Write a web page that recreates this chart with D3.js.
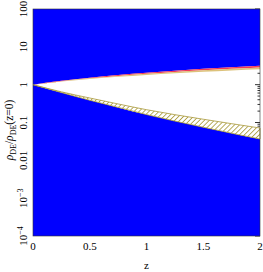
<!DOCTYPE html>
<html>
<head>
  <script src="https://d3js.org/d3.v7.min.js"></script>
  <style>
    body { margin: 0; background: #fff; }
    text { font-family: "Liberation Serif", "DejaVu Serif", serif; fill: #000; }
  </style>
</head>
<body>
  <div class="chart"></div>
  <script>
    // data
    const zValues    = [0, 0.25, 0.5, 0.75, 1, 1.25, 1.5, 1.75, 2];
    const upperOuter = [1, 1.26, 1.53, 1.80, 2.07, 2.34, 2.62, 2.89, 3.17];
    const upperMid   = [1, 1.24, 1.47, 1.70, 1.93, 2.16, 2.39, 2.62, 2.84];
    const upperInner = [1, 1.21, 1.41, 1.61, 1.80, 1.99, 2.18, 2.36, 2.54];
    const lowerInner = [1, 0.647, 0.444, 0.309, 0.218, 0.161, 0.122, 0.093, 0.0715];
    const lowerOuter = [1, 0.618, 0.387, 0.251, 0.162, 0.109, 0.075, 0.052, 0.0366];
    const xTicks = [0, 0.5, 1, 1.5, 2];
    const xTickLabels = ["0", "0.5", "1", "1.5", "2"];
    const yTicks = [1e-4, 1e-3, 0.01, 0.1, 1, 10, 100];
    const yTickLabels = [["10", "\u22124"], ["10", "\u22123"], ["0.01"], ["0.1"], ["1"], ["10"], ["100"]];

    const width = 263, height = 272;
    const margin = { top: 9, right: 3, bottom: 36, left: 33 };
    const w = width - margin.left - margin.right;
    const h = height - margin.top - margin.bottom;

    const svg = d3.select(".chart").append("svg")
      .attr("width", width)
      .attr("height", height);

    const g = svg.append("g")
      .attr("transform", `translate(${margin.left},${margin.top})`);

    const x = d3.scaleLinear().domain([0, 2]).range([0, w]);
    const y = d3.scaleLog().domain([1e-4, 100]).range([h, 0]);

    const rows = zValues.map((z, i) => ({
      z, uo: upperOuter[i], um: upperMid[i], ui: upperInner[i],
      li: lowerInner[i], lo: lowerOuter[i]
    }));

    // inner ticks on right side (drawn under the fills)
    const minor = [];
    for (let e = -4; e < 2; e++) for (let k = 2; k <= 9; k++) minor.push(k * Math.pow(10, e));
    g.selectAll(".rmaj").data(yTicks).join("line")
      .attr("x1", w).attr("x2", w - 5)
      .attr("y1", d => y(d)).attr("y2", d => y(d))
      .attr("stroke", "#333").attr("stroke-width", 1);
    g.selectAll(".rmin").data(minor).join("line")
      .attr("x1", w).attr("x2", w - 2.5)
      .attr("y1", d => y(d)).attr("y2", d => y(d))
      .attr("stroke", "#333").attr("stroke-width", 1);

    // hatch pattern
    const pat = svg.append("defs").append("pattern")
      .attr("id", "hatch")
      .attr("patternUnits", "userSpaceOnUse")
      .attr("width", 3.5).attr("height", 3.5)
      .attr("patternTransform", "rotate(45)");
    pat.append("rect").attr("width", 3.5).attr("height", 3.5).attr("fill", "#fff");
    pat.append("line").attr("x1", 0).attr("y1", 0).attr("x2", 0).attr("y2", 3.5)
      .attr("stroke", "#a89838").attr("stroke-width", 1.6);

    const curve = d3.curveMonotoneX;

    // blue regions
    g.append("path").datum(rows)
      .attr("fill", "#0000ff")
      .attr("d", d3.area().curve(curve).x(d => x(d.z)).y0(0).y1(d => y(d.uo)));
    g.append("path").datum(rows)
      .attr("fill", "#0000ff")
      .attr("d", d3.area().curve(curve).x(d => x(d.z)).y0(h).y1(d => y(d.lo)));
    g.append("rect").attr("x", 0).attr("y", 0).attr("width", 1.5).attr("height", h).attr("fill", "#0000ff");

    // upper bands
    g.append("path").datum(rows)
      .attr("fill", "#f03a5a")
      .attr("d", d3.area().curve(curve).x(d => x(d.z)).y0(d => y(d.uo)).y1(d => y(d.um)));
    g.append("path").datum(rows)
      .attr("fill", "#dcc27a")
      .attr("d", d3.area().curve(curve).x(d => x(d.z)).y0(d => y(d.um)).y1(d => y(d.ui)));

    // lower hatched band
    g.append("path").datum(rows)
      .attr("fill", "url(#hatch)")
      .attr("stroke", "#a89838").attr("stroke-width", 0.8)
      .attr("d", d3.area().curve(curve).x(d => x(d.z)).y0(d => y(d.lo)).y1(d => y(d.li)));

    // frame
    g.append("rect").attr("width", w).attr("height", h)
      .attr("fill", "none").attr("stroke", "#333").attr("stroke-width", 0.6);

    // x tick labels
    g.selectAll(".xl").data(xTicks).join("text")
      .attr("x", d => x(d)).attr("y", h + 14)
      .attr("text-anchor", "middle")
      .attr("font-size", 11)
      .text((d, i) => xTickLabels[i]);

    g.append("text")
      .attr("x", x(1)).attr("y", h + 33)
      .attr("text-anchor", "middle")
      .attr("font-size", 11)
      .text("z");

    // y tick labels (rotated)
    yTicks.forEach((v, i) => {
      const t = svg.append("text")
        .attr("transform", `translate(27,${margin.top + y(v)}) rotate(-90)`)
        .attr("text-anchor", "middle")
        .attr("font-size", 11);
      const lab = yTickLabels[i];
      t.append("tspan").text(lab[0]);
      if (lab[1]) t.append("tspan").attr("dy", -4).attr("font-size", 8).text(lab[1]);
    });

    // y title
    const yt = svg.append("text")
      .attr("transform", `translate(13,${margin.top + 121}) rotate(-90)`)
      .attr("text-anchor", "middle")
      .attr("font-size", 11.5);
    yt.append("tspan").attr("font-style", "italic").text("\u03c1");
    yt.append("tspan").attr("dy", 3).attr("font-size", 8).text("DE");
    yt.append("tspan").attr("dy", -3).text("/");
    yt.append("tspan").attr("font-style", "italic").text("\u03c1");
    yt.append("tspan").attr("dy", 3).attr("font-size", 8).text("DE");
    yt.append("tspan").attr("dy", -3).text("(z=0)");
  </script>
</body>
</html>
